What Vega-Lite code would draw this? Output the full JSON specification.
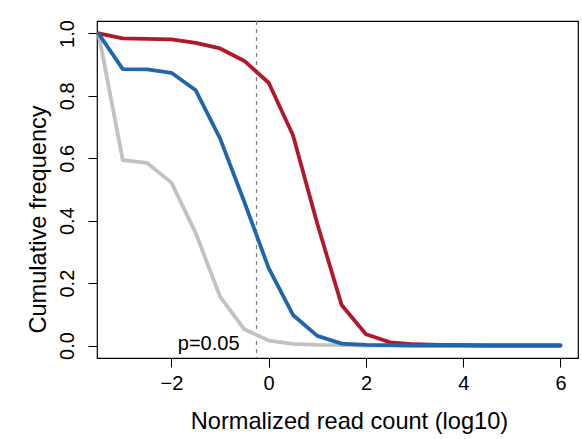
{
  "$schema": "https://vega.github.io/schema/vega-lite/v6.json",
  "autosize": {"type": "none"},
  "padding": {"left": 97, "top": 21, "right": 4, "bottom": 81},
  "width": 481,
  "height": 337,
  "background": "white",
  "config": {
    "view": {"stroke": "black", "strokeWidth": 1.2},
    "font": "Liberation Sans",
    "axis": {
      "domain": false,
      "grid": false,
      "ticks": true,
      "tickColor": "black",
      "tickWidth": 1,
      "tickSize": 9,
      "labelFont": "Liberation Sans",
      "labelFontSize": 20,
      "labelColor": "black",
      "titleFont": "Liberation Sans",
      "titleFontSize": 23.6,
      "titleFontWeight": "normal",
      "titleColor": "black"
    }
  },
  "datasets": {
    "curves": [
      {"x": -3.5, "series": "gray", "y": 1.0}, {"x": -3.0, "series": "gray", "y": 0.594}, {"x": -2.5, "series": "gray", "y": 0.585}, {"x": -2.0, "series": "gray", "y": 0.522}, {"x": -1.5, "series": "gray", "y": 0.36}, {"x": -1.0, "series": "gray", "y": 0.157}, {"x": -0.5, "series": "gray", "y": 0.052}, {"x": 0.0, "series": "gray", "y": 0.016}, {"x": 0.5, "series": "gray", "y": 0.005}, {"x": 1.0, "series": "gray", "y": 0.002}, {"x": 1.5, "series": "gray", "y": 0.001}, {"x": 2.0, "series": "gray", "y": 0.0}, {"x": 2.5, "series": "gray", "y": 0.0}, {"x": 3.0, "series": "gray", "y": 0.0}, {"x": 3.5, "series": "gray", "y": 0.0}, {"x": 4.0, "series": "gray", "y": 0.0}, {"x": 4.5, "series": "gray", "y": 0.0}, {"x": 5.0, "series": "gray", "y": 0.0}, {"x": 5.5, "series": "gray", "y": 0.0}, {"x": 6.0, "series": "gray", "y": 0.0},
      {"x": -3.5, "series": "red", "y": 1.0}, {"x": -3.0, "series": "red", "y": 0.984}, {"x": -2.5, "series": "red", "y": 0.983}, {"x": -2.0, "series": "red", "y": 0.981}, {"x": -1.5, "series": "red", "y": 0.970}, {"x": -1.0, "series": "red", "y": 0.952}, {"x": -0.5, "series": "red", "y": 0.912}, {"x": 0.0, "series": "red", "y": 0.842}, {"x": 0.5, "series": "red", "y": 0.674}, {"x": 1.0, "series": "red", "y": 0.39}, {"x": 1.5, "series": "red", "y": 0.130}, {"x": 2.0, "series": "red", "y": 0.036}, {"x": 2.5, "series": "red", "y": 0.010}, {"x": 3.0, "series": "red", "y": 0.004}, {"x": 3.5, "series": "red", "y": 0.002}, {"x": 4.0, "series": "red", "y": 0.001}, {"x": 4.5, "series": "red", "y": 0.0}, {"x": 5.0, "series": "red", "y": 0.0}, {"x": 5.5, "series": "red", "y": 0.0}, {"x": 6.0, "series": "red", "y": 0.0},
      {"x": -3.5, "series": "blue", "y": 1.0}, {"x": -3.0, "series": "blue", "y": 0.886}, {"x": -2.5, "series": "blue", "y": 0.885}, {"x": -2.0, "series": "blue", "y": 0.874}, {"x": -1.5, "series": "blue", "y": 0.818}, {"x": -1.0, "series": "blue", "y": 0.664}, {"x": -0.5, "series": "blue", "y": 0.46}, {"x": 0.0, "series": "blue", "y": 0.248}, {"x": 0.5, "series": "blue", "y": 0.098}, {"x": 1.0, "series": "blue", "y": 0.031}, {"x": 1.5, "series": "blue", "y": 0.006}, {"x": 2.0, "series": "blue", "y": 0.002}, {"x": 2.5, "series": "blue", "y": 0.001}, {"x": 3.0, "series": "blue", "y": 0.0}, {"x": 3.5, "series": "blue", "y": 0.0}, {"x": 4.0, "series": "blue", "y": 0.0}, {"x": 4.5, "series": "blue", "y": 0.0}, {"x": 5.0, "series": "blue", "y": 0.0}, {"x": 5.5, "series": "blue", "y": 0.0}, {"x": 6.0, "series": "blue", "y": 0.0}
    ],
    "threshold": [{"x": -0.25, "y": -0.015, "label": "p=0.05"}]
  },
  "layer": [
    {
      "data": {"name": "threshold"},
      "mark": {"type": "rule", "color": "#808080", "strokeWidth": 1.2, "strokeDash": [4, 4]},
      "encoding": {
        "x": {
          "field": "x", "type": "quantitative",
          "scale": {"domain": [-3.53, 6.36], "nice": false, "zero": false},
          "axis": {
            "values": [-2, 0, 2, 4, 6],
            "format": "d",
            "labelPadding": 6,
            "title": "Normalized read count (log10)",
            "titleAnchor": "start",
            "titleX": 252,
            "titleY": 70,
            "titleAlign": "center",
            "titleBaseline": "alphabetic"
          }
        }
      }
    },
    {
      "data": {"name": "curves"},
      "transform": [{"filter": "datum.series === 'gray'"}],
      "mark": {"type": "line", "color": "#C2C2C2", "strokeWidth": 3.8, "strokeCap": "round", "strokeJoin": "round"},
      "encoding": {
        "x": {"field": "x", "type": "quantitative"},
        "y": {
          "field": "y", "type": "quantitative",
          "scale": {"domain": [-0.04, 1.04], "nice": false, "zero": false},
          "axis": {
            "values": [0, 0.2, 0.4, 0.6, 0.8, 1.0],
            "format": ".1f",
            "labelAngle": -90,
            "labelAlign": "center",
            "labelBaseline": "alphabetic",
            "labelPadding": 15,
            "title": "Cumulative frequency",
            "titleAngle": -90,
            "titleAnchor": "start",
            "titleX": -52,
            "titleY": 198,
            "titleAlign": "center",
            "titleBaseline": "alphabetic"
          }
        }
      }
    },
    {
      "data": {"name": "curves"},
      "transform": [{"filter": "datum.series === 'red'"}],
      "mark": {"type": "line", "color": "#B2182B", "strokeWidth": 3.8, "strokeCap": "round", "strokeJoin": "round"},
      "encoding": {
        "x": {"field": "x", "type": "quantitative"},
        "y": {"field": "y", "type": "quantitative"}
      }
    },
    {
      "data": {"name": "curves"},
      "transform": [{"filter": "datum.series === 'blue'"}],
      "mark": {"type": "line", "color": "#2166AC", "strokeWidth": 3.8, "strokeCap": "round", "strokeJoin": "round"},
      "encoding": {
        "x": {"field": "x", "type": "quantitative"},
        "y": {"field": "y", "type": "quantitative"}
      }
    },
    {
      "data": {"name": "threshold"},
      "mark": {"type": "text", "fontSize": 20, "font": "Liberation Sans", "color": "black", "align": "right", "baseline": "alphabetic", "dx": -17},
      "encoding": {
        "x": {"field": "x", "type": "quantitative"},
        "y": {"field": "y", "type": "quantitative"},
        "text": {"field": "label"}
      }
    }
  ]
}
